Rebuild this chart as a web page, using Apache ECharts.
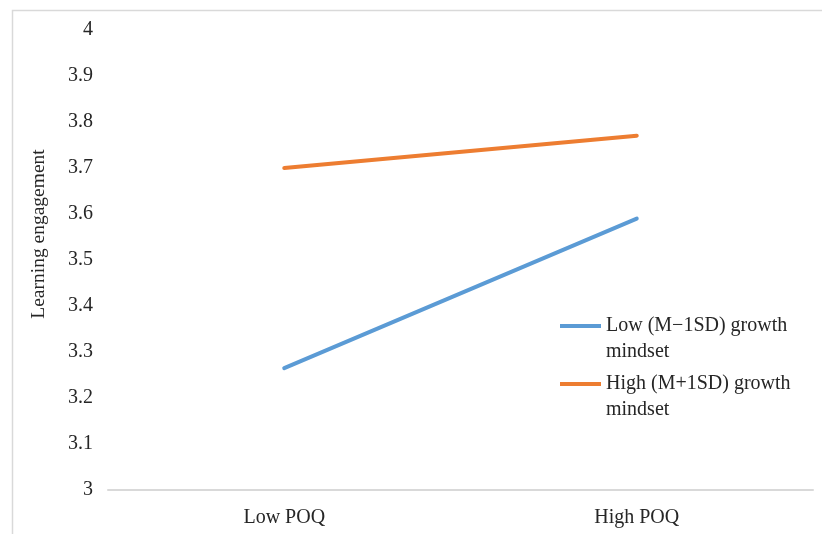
<!DOCTYPE html>
<html>
<head>
<meta charset="utf-8">
<style>html,body{margin:0;padding:0;background:#fff}#c{width:822px;height:534px}</style>
<script src="https://cdn.jsdelivr.net/npm/echarts@6/dist/echarts.min.js"></script>
</head>
<body>
<div id="c"></div>
<script>
const categories = ['Low POQ', 'High POQ'];
const seriesNames = ['Low (M\u22121SD) growth\nmindset', 'High (M+1SD) growth\nmindset'];
const lowMindset = [3.265, 3.59];
const highMindset = [3.70, 3.77];
const yAxisTitle = 'Learning engagement';

const font = '"Liberation Serif", "Times New Roman", serif';
const textColor = '#262626';
const chart = echarts.init(document.getElementById('c'));
const legendText = { fontFamily: font, fontSize: 20, color: textColor, lineHeight: 26 };
const legendCommon = {
  orient: 'vertical', icon: 'rect', itemWidth: 41, itemHeight: 4, itemGap: 0,
  textStyle: legendText, padding: 0,
  formatter: function (name) { return '\n' + name; }
};
chart.setOption({
  animation: false,
  backgroundColor: '#fff',
  graphic: [
    { type: 'rect', shape: { x: 12.5, y: 10.5, width: 900, height: 700 },
      style: { fill: 'none', stroke: '#d9d9d9', lineWidth: 1.5 }, silent: true },
    { type: 'text', x: 39, y: 234, rotation: Math.PI / 2,
      style: { text: yAxisTitle, font: '19.5px ' + font, fill: textColor,
               align: 'center', verticalAlign: 'middle' } }
  ],
  grid: { left: 108, right: 9, top: 30, bottom: 44 },
  legend: [
    Object.assign({ data: [seriesNames[0]], left: 560, top: 287 }, legendCommon),
    Object.assign({ data: [seriesNames[1]], left: 560, top: 345 }, legendCommon)
  ],
  xAxis: {
    type: 'category', data: categories, boundaryGap: true,
    axisLine: { show: true, lineStyle: { color: '#d9d9d9', width: 2 } },
    axisTick: { show: false },
    axisLabel: { fontFamily: font, fontSize: 20, color: textColor, margin: 18 },
    splitLine: { show: false }
  },
  yAxis: {
    type: 'value', min: 3, max: 4, interval: 0.1,
    axisLine: { show: false }, axisTick: { show: false },
    splitLine: { show: false },
    axisLabel: { fontFamily: font, fontSize: 20, color: textColor, margin: 15 }
  },
  series: [
    { name: seriesNames[0], type: 'line', data: lowMindset, symbol: 'none',
      lineStyle: { color: '#5B9BD5', width: 4, cap: 'round' }, itemStyle: { color: '#5B9BD5' } },
    { name: seriesNames[1], type: 'line', data: highMindset, symbol: 'none',
      lineStyle: { color: '#ED7D31', width: 4, cap: 'round' }, itemStyle: { color: '#ED7D31' } }
  ]
});
</script>
</body>
</html>
